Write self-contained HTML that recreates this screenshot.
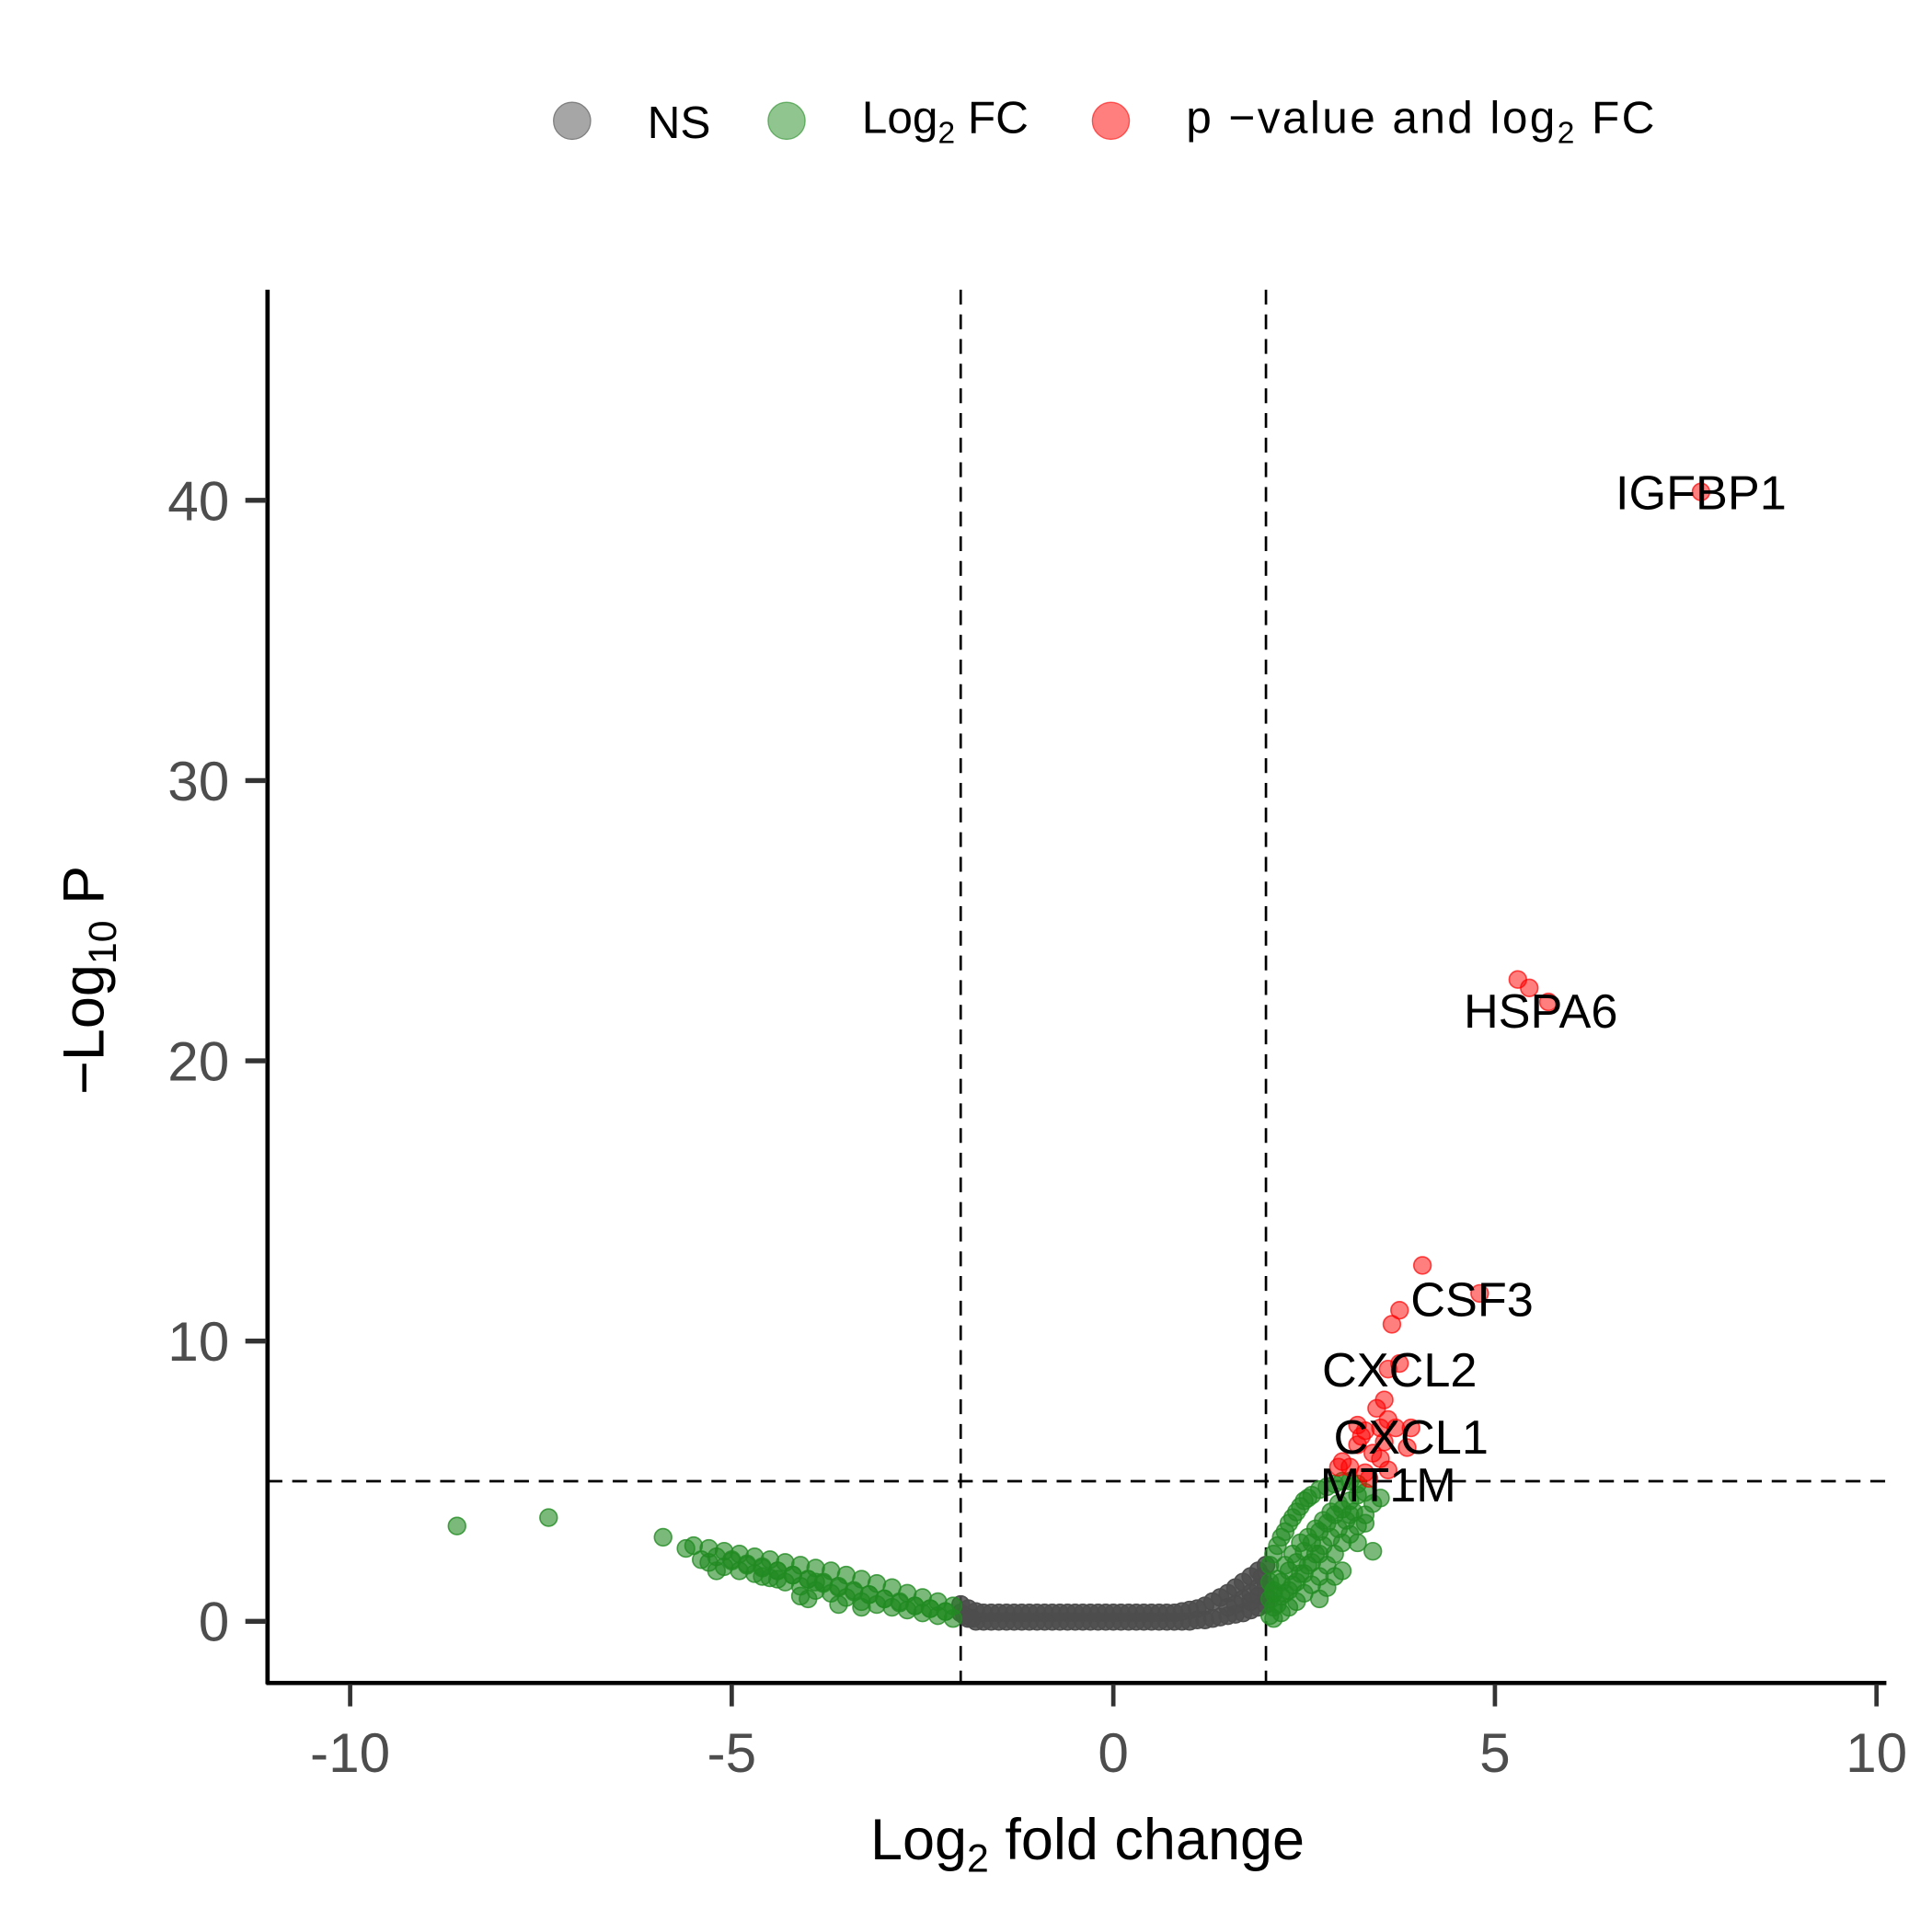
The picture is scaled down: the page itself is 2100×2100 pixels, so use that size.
<!DOCTYPE html>
<html><head><meta charset="utf-8"><style>
html,body{margin:0;padding:0;background:#fff}
svg{display:block}
text{font-family:"Liberation Sans",sans-serif}
</style></head><body>
<svg id="chart" width="2100" height="2100" viewBox="0 0 1567 1567" xmlns="http://www.w3.org/2000/svg">
<rect width="1567" height="1567" fill="#fff"/>
<g id="legend">
 <g><circle cx="464" cy="98" r="15" fill="#808080" fill-opacity="0.7" stroke="#808080"/><text x="525" y="112" font-size="37">NS</text></g>
 <g><circle cx="638" cy="98" r="15" fill="#228B22" fill-opacity="0.5" stroke="#228B22" stroke-opacity="0.6"/><text x="699" y="108" font-size="37">Log<tspan font-size="25" dy="8">2</tspan><tspan dy="-8"> FC</tspan></text></g>
 <g><circle cx="901" cy="98" r="15" fill="#FF0000" fill-opacity="0.5" stroke="#FF0000" stroke-opacity="0.6"/><text x="962" y="108" font-size="37" textLength="380">p −value and log<tspan font-size="25" dy="8">2</tspan><tspan dy="-8"> FC</tspan></text></g>
</g>
<g id="guides"></g>
<g id="points"></g>
<g id="labels"></g>
<g id="axes"></g>
<text x="882" y="1508" font-size="47" text-anchor="middle">Log<tspan font-size="32" dy="10">2</tspan><tspan dy="-10"> fold change</tspan></text>
<text transform="translate(84,795) rotate(-90)" font-size="47" text-anchor="middle">−Log<tspan font-size="32" dy="10">10</tspan><tspan dy="-10"> P</tspan></text>
</svg>
<script>
const xTicks=[-10,-5,0,5,10];
const yTicks=[0,10,20,30,40];
const fcCut=[-2,2];
const pCut=[5];
const nsX=[-2,-1.9,-1.8,-1.7,-1.6,-1.5,-1.4,-1.3,-1.2,-1.1,-1,-0.9,-0.8,-0.7,-0.6,-0.5,-0.4,-0.3,-0.2,-0.1,0,0.1,0.2,0.3,0.4,0.5,0.6,0.7,0.8,0.9,1,
 -2,-1.9,-1.8,-1.7,-1.6,-1.5,-1.4,-1.3,-1.2,-1.1,-1,-0.9,-0.8,-0.7,-0.6,-0.5,-0.4,-0.3,-0.2,-0.1,0,0.1,0.2,0.3,0.4,0.5,0.6,0.7,0.8,0.9,1,
 1.1,1.2,1.3,1.4,1.5,1.6,1.7,1.8,1.9,2,1.1,1.2,1.3,1.4,1.5,1.6,1.7,1.8,1.9,2,1.5,1.6,1.7,1.8,1.9,2,1.9,2,1.8,1.95,-1.95,-1.85];
const nsY=[0.3,0.1,0,0,0,0,0,0,0,0,0,0,0,0,0,0,0,0,0,0,0,0,0,0,0,0,0,0,0,0,0,
 0.6,0.45,0.35,0.3,0.3,0.3,0.3,0.3,0.3,0.3,0.3,0.3,0.3,0.3,0.3,0.3,0.3,0.3,0.3,0.3,0.3,0.3,0.3,0.3,0.3,0.3,0.3,0.3,0.3,0.35,0.4,
 0.45,0.55,0.7,0.85,1.0,1.2,1.4,1.6,1.8,2.0,0.05,0.05,0.1,0.15,0.2,0.25,0.3,0.4,0.5,0.6,0.5,0.6,0.8,1.0,1.2,1.3,0.9,0.9,0.7,1.6,0.2,0.1];
const fcX=[-2.1,-2.3,-2.5,-2.7,-2.9,-3.1,-3.3,-3.5,-3.7,-3.9,-4.1,-4.3,-4.5,-4.7,-4.9,-5.1,-5.3,-5.5,
 -2.1,-2.3,-2.5,-2.7,-2.9,-3.1,-3.3,-3.5,-3.7,-3.9,-4.1,-4.3,-4.5,-4.7,-4.9,-5.1,-5.3,
 -2.2,-2.6,-3,-3.4,-3.8,-4.2,-4.6,-5,-2.4,-2.8,-3.2,-3.6,-4,-4.4,-4.8,
 -2.2,-2.4,-2.6,-2.8,-3.0,-3.2,-3.4,-3.6,-3.8,-4.0,-4.2,-4.4,-4.6,-4.8,-5.0,-5.2,
 -4,-4.1,-3.6,-3.3,-4.6,-5.2,-5.4,-5.6,-5.9,-7.4,-8.6,-3.9,-4.4,
 2.05,2.05,2.05,2.05,2.1,2.1,2.15,2.2,2.25,2.3,2.35,2.4,2.45,2.5,2.55,2.6,2.7,2.8,2.9,3.0,3.1,3.2,3.3,
 2.1,2.2,2.3,2.4,2.5,2.6,2.7,2.8,2.9,3.0,3.1,3.2,3.3,3.4,
 2.15,2.25,2.35,2.45,2.55,2.65,2.75,2.85,2.95,
 2.1,2.2,2.3,2.4,2.5,2.6,2.7,2.8,2.9,3.0,3.1,3.2,
 2.15,2.25,2.35,2.45,2.55,2.65,2.75,2.85,2.95,3.05,3.15,
 2.1,2.2,2.3,2.4,2.5,2.6,2.7,
 3.4,3.0,2.9,2.8,3.2,3.3,3.5,2.7,3.1];
const fcY=[0.55,0.7,0.85,1.0,1.2,1.35,1.5,1.65,1.8,1.9,2.0,2.1,2.2,2.3,2.4,2.5,2.6,2.7,
 0.1,0.2,0.3,0.4,0.5,0.6,0.7,0.85,1.0,1.1,1.25,1.4,1.55,1.7,1.8,1.95,2.1,
 0.35,0.55,0.8,1.05,1.35,1.65,1.9,2.15,0.45,0.7,0.95,1.2,1.5,1.8,2.0,
 0.35,0.45,0.55,0.65,0.8,0.95,1.1,1.25,1.4,1.5,1.65,1.8,1.95,2.05,2.2,2.3,
 0.8,0.9,0.6,0.5,1.6,1.8,2.2,2.6,3.0,3.7,3.4,1.4,1.5,
 0.2,0.8,1.4,2.0,2.4,1.1,2.7,3.0,3.2,3.5,3.7,3.9,4.1,4.3,4.4,4.5,4.7,4.8,4.9,5.0,5.0,4.9,4.6,
 0.1,0.3,0.5,0.7,1.0,1.3,1.6,2.0,2.4,2.8,3.1,3.4,3.8,4.2,
 1.5,2.0,2.4,2.8,3.0,3.3,3.6,3.9,4.2,
 1.0,1.4,1.8,2.1,2.5,2.8,3.2,3.5,3.8,4.0,4.3,4.5,
 0.6,1.0,1.3,1.7,2.0,2.4,2.7,3.0,3.3,3.6,3.9,
 0.5,0.9,1.1,1.4,1.7,2.1,2.4,
 2.5,1.8,1.6,1.2,2.8,3.5,4.4,0.8,3.8];
const sigX=[7.7,5.3,5.45,5.7,4.05,4.8,3.75,3.65,3.75,3.6,3.55,3.45,3.2,3.3,3.5,3.6,3.7,3.9,3.85,3.4,3.2,3.1,2.95,3.0,3.3,3.6,3.5,3.25,3.55,3.35];
const sigY=[40.3,22.9,22.6,22.1,12.7,11.7,11.1,10.6,9.2,9.0,7.9,7.6,7.0,6.8,6.9,7.2,6.9,6.9,6.2,6.0,6.3,5.5,5.5,5.7,5.3,5.4,5.8,6.6,6.4,5.1];
const geneNames=["IGFBP1","HSPA6","CSF3","CXCL2","CXCL1","MT1M"];
const geneX=[7.7,5.6,4.7,3.75,3.9,3.6];
const geneY=[40.3,21.8,11.5,9.0,6.6,4.9];

const NS='http://www.w3.org/2000/svg';
const X0=903,XU=61.9,Y0=1315,YU=22.73;
function sx(v){return X0+v*XU;}
function sy(v){return Y0-v*YU;}
function mk(tag,attrs,parent){const e=document.createElementNS(NS,tag);for(const k in attrs)e.setAttribute(k,attrs[k]);parent.appendChild(e);return e;}

const guides=document.getElementById('guides');
fcCut.forEach(v=>{const l=mk('line',{x1:sx(v),x2:sx(v),y1:235,y2:1365,stroke:'#000','stroke-width':2,'stroke-dasharray':'12,8'},guides);

});
pCut.forEach(v=>{const l=mk('line',{x1:217,x2:1530,y1:sy(v),y2:sy(v),stroke:'#000','stroke-width':2,'stroke-dasharray':'12,8'},guides);

});

const pts=document.getElementById('points');
function drawPts(xs,ys,col,op,name){for(let i=0;i<xs.length;i++){const c=mk('circle',{cx:sx(xs[i]),cy:sy(ys[i]),r:7,fill:col,'fill-opacity':op,stroke:col,'stroke-opacity':Math.min(1,op+0.2),'stroke-width':1.2},pts);

}}
drawPts(nsX,nsY,'#4d4d4d',0.85,'ns-point');
drawPts(fcX,fcY,'#228B22',0.6,'log2fc-point');
drawPts(sigX,sigY,'#FF0000',0.5,'significant-point');

const labs=document.getElementById('labels');
geneNames.forEach((g,i)=>{const t=mk('text',{x:sx(geneX[i]),y:sy(geneY[i])+14,'font-size':39,'text-anchor':'middle',fill:'#000'},labs);t.textContent=g;

});

const ax=document.getElementById('axes');
const yl=mk('line',{x1:217,x2:217,y1:235,y2:1366,stroke:'#000','stroke-width':3.5},ax);


const xl=mk('line',{x1:216,x2:1530,y1:1365,y2:1365,stroke:'#000','stroke-width':3.5},ax);


xTicks.forEach(v=>{const tk=mk('line',{x1:sx(v),x2:sx(v),y1:1366,y2:1384,stroke:'#333','stroke-width':3.5},ax);


const t=mk('text',{x:sx(v),y:1437,'font-size':45,'text-anchor':'middle',fill:'#4d4d4d'},ax);t.textContent=v;

});
yTicks.forEach(v=>{const tk=mk('line',{x1:199,x2:216,y1:sy(v),y2:sy(v),stroke:'#333','stroke-width':4},ax);


const t=mk('text',{x:186,y:sy(v)+16,'font-size':45,'text-anchor':'end',fill:'#4d4d4d'},ax);t.textContent=v;

});
</script>
</body></html>
